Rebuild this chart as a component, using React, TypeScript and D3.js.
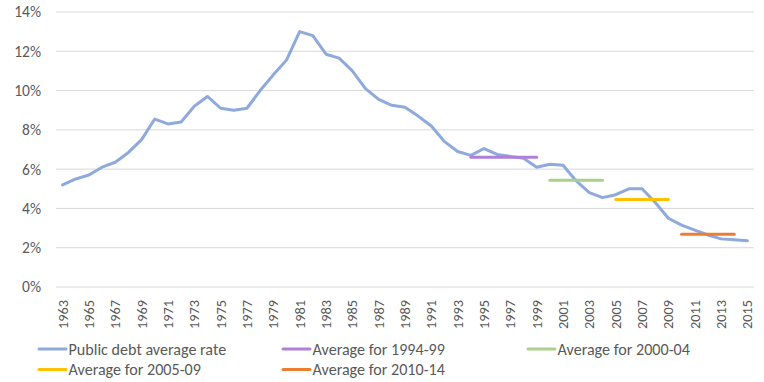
import React from "react";
import * as d3 from "d3";

const years: string[] = [];
for (let y = 1963; y <= 2015; y++) years.push(String(y));

const debtRate = [
  5.2, 5.5, 5.7, 6.1, 6.35, 6.85, 7.5, 8.55, 8.3, 8.4,
  9.2, 9.7, 9.1, 9.0, 9.1, 10.0, 10.8, 11.55, 13.0, 12.8,
  11.85, 11.65, 11.0, 10.1, 9.55, 9.25, 9.15, 8.7, 8.2, 7.4,
  6.9, 6.7, 7.05, 6.75, 6.65, 6.55, 6.1, 6.25, 6.2, 5.4,
  4.8, 4.55, 4.7, 5.0, 5.0, 4.3, 3.5, 3.15, 2.9, 2.65,
  2.45, 2.4, 2.35,
];

const avgNames = ["Average for 1994-99", "Average for 2000-04", "Average for 2005-09", "Average for 2010-14"];
const avgStart = ["1994", "2000", "2005", "2010"];
const avgEnd = ["1999", "2004", "2009", "2014"];
const avgValues = [6.6, 5.43, 4.46, 2.68];
const avgColors = ["#B07FD8", "#A9D18E", "#FFC000", "#ED7D31"];
const mainColor = "#8EA9DB";
const mainName = "Public debt average rate";

const yTicks = [0, 2, 4, 6, 8, 10, 12, 14];

export default function App() {
  const W = 764, H = 382;
  const left = 56, right = 754, top = 12, bottom = 287;
  const x = d3.scaleBand<string>().domain(years).range([left, right]).padding(0);
  const cx = (yr: string) => (x(yr) as number) + x.bandwidth() / 2;
  const y = d3.scaleLinear().domain([0, 14]).range([bottom, top]);
  const line = d3.line<number>().x((_, i) => cx(years[i])).y((d) => y(d));
  const font = "Carlito, Calibri, Lato, sans-serif";
  const txt = "#595959";

  const legend = [
    { name: mainName, color: mainColor, lx: 39, ly: 349 },
    { name: avgNames[0], color: avgColors[0], lx: 283, ly: 349 },
    { name: avgNames[1], color: avgColors[1], lx: 528, ly: 349 },
    { name: avgNames[2], color: avgColors[2], lx: 39, ly: 369.5 },
    { name: avgNames[3], color: avgColors[3], lx: 283, ly: 369.5 },
  ];

  return (
    <svg width={W} height={H} style={{ position: "absolute", left: 0, top: 0, background: "#fff" }} fontFamily={font}>
      {yTicks.map((t) => (
        <g key={t}>
          <line x1={left} x2={right} y1={y(t)} y2={y(t)} stroke="#D9D9D9" strokeWidth={1} />
          <text x={41} y={y(t)} dy="0.35em" textAnchor="end" fontSize={15.5} fill={txt}>{t}%</text>
        </g>
      ))}
      {years.map((yr, i) =>
        i % 2 === 0 ? (
          <text key={yr} transform={`translate(${cx(yr)},${300}) rotate(-90)`} textAnchor="end" dy="0.35em" fontSize={14.3} fill={txt}>{yr}</text>
        ) : null
      )}
      <path d={line(debtRate) || ""} fill="none" stroke={mainColor} strokeWidth={3} strokeLinejoin="round" strokeLinecap="round" />
      {avgValues.map((v, i) => (
        <line key={i} x1={cx(avgStart[i])} x2={cx(avgEnd[i])} y1={y(v)} y2={y(v)} stroke={avgColors[i]} strokeWidth={3} strokeLinecap="round" />
      ))}
      {legend.map((l) => (
        <g key={l.name}>
          <line x1={l.lx} x2={l.lx + 27} y1={l.ly} y2={l.ly} stroke={l.color} strokeWidth={3} strokeLinecap="round" />
          <text x={l.lx + 29.5} y={l.ly} dy="0.35em" fontSize={16.1} fill={txt}>{l.name}</text>
        </g>
      ))}
    </svg>
  );
}
